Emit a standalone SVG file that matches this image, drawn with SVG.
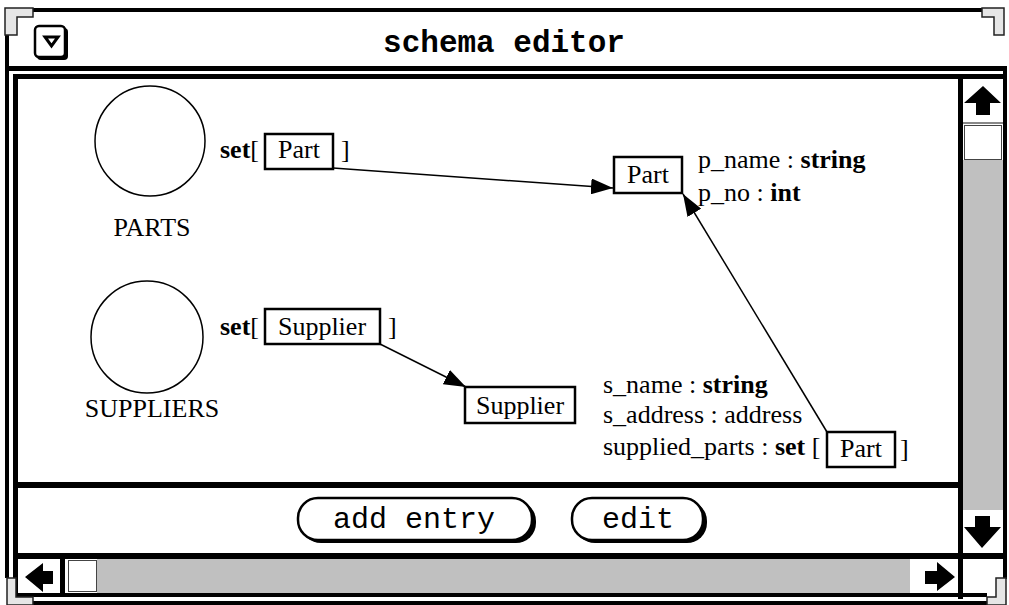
<svg xmlns="http://www.w3.org/2000/svg" width="1009" height="605" viewBox="0 0 1009 605">
<style>
.t{font-family:"Liberation Serif","Times New Roman",serif;font-size:26px;fill:#000}
.b{font-weight:bold}
.mono{font-family:"Liberation Mono","Courier New",monospace;fill:#000}
.box{fill:#fff;stroke:#000;stroke-width:2.5}
.circ{fill:#fff;stroke:#000;stroke-width:1.5}
.edge{stroke:#000;stroke-width:1.5;fill:none;marker-end:url(#ah)}
.blk{fill:#000}
.gray{fill:#c0c0c0}
.corner{fill:#e6e6e6;stroke:#222;stroke-width:1.5}
</style>
<defs>
<marker id="ah" markerUnits="userSpaceOnUse" markerWidth="24" markerHeight="16" refX="22" refY="8" orient="auto">
<path d="M0,0 L22,8 L0,16 z" fill="#000"/>
</marker>
</defs>
<rect width="1009" height="605" fill="#fff"/>
<g id="window-chrome">
<!-- outer frame -->
<rect class="blk" x="5" y="8" width="982" height="4"/>
<rect class="blk" x="5" y="8" width="4" height="570"/>
<rect class="blk" x="5" y="66" width="1002" height="5"/>
<rect class="blk" x="13" y="74" width="994" height="5"/>
<rect class="blk" x="13" y="74" width="5" height="523"/>
<rect class="blk" x="1003" y="66" width="4" height="513"/>
<rect class="blk" x="958" y="74" width="5" height="525"/>
<rect class="blk" x="18" y="482" width="940" height="6"/>
<rect class="blk" x="18" y="553" width="985" height="6"/>
<rect class="blk" x="18" y="593" width="969" height="4"/>
<rect class="blk" x="33" y="601" width="954" height="4"/>
<!-- corners -->
<polygon class="corner" points="5,8 33,8 33,17 17,17 17,35 5,35"/>
<polygon class="corner" points="1004,8 982,8 982,17 994,17 994,35 1004,35"/>
<polygon class="corner" points="7,605 33,605 33,597 16,597 16,578 7,578"/>
<polygon class="corner" points="1006,605 987,605 987,597 996,597 996,578 1006,578"/>
<!-- menu button -->
<rect x="37" y="28" width="31" height="32" rx="4" fill="#000"/>
<rect x="35" y="26" width="30" height="31" rx="4" fill="#fff" stroke="#000" stroke-width="2.5"/>
<polygon points="45,37 58,37 51.5,46" fill="#fff" stroke="#000" stroke-width="3" stroke-linejoin="miter"/>
<text class="mono b" x="504" y="52" font-size="31" text-anchor="middle">schema editor</text>
<!-- vertical scrollbar -->
<rect x="963" y="79" width="40" height="44" fill="#fff"/>
<polygon class="blk" points="964,103 983,86 1001,103 990,103 990,115 976,115 976,103"/>
<rect x="963" y="122" width="40" height="2" fill="#888"/>
<rect x="964.5" y="125.5" width="37" height="34" fill="#fff" stroke="#444" stroke-width="1"/>
<rect class="gray" x="963" y="160" width="40" height="350"/>
<rect x="963" y="510" width="40" height="43" fill="#fff"/>
<polygon class="blk" points="975,516 990,516 990,527 1001,527 982,548 964,527 975,527"/>
<!-- horizontal scrollbar -->
<rect x="18" y="559" width="42" height="34" fill="#fff"/>
<polygon class="blk" points="25,577 43,563 43,571 53,571 53,584 43,584 43,592"/>
<rect class="blk" x="60" y="559" width="5" height="36"/>
<rect x="68.5" y="560.5" width="28" height="31" fill="#fff" stroke="#444" stroke-width="1"/>
<rect class="gray" x="97" y="559" width="813" height="34"/>
<rect x="910" y="559" width="48" height="34" fill="#fff"/>
<polygon class="blk" points="925,571 937,571 937,562 955,577 937,591 937,584 925,584"/>
<!-- buttons -->
<rect x="301" y="501" width="235" height="42" rx="20" fill="#000"/>
<rect x="298" y="498" width="234" height="42" rx="20" fill="#fff" stroke="#000" stroke-width="2.5"/>
<text class="mono" x="414" y="528" font-size="30" text-anchor="middle">add entry</text>
<rect x="575" y="501" width="132" height="42" rx="20" fill="#000"/>
<rect x="572" y="498" width="131" height="42" rx="20" fill="#fff" stroke="#000" stroke-width="2.5"/>
<text class="mono" x="638" y="528" font-size="30" text-anchor="middle">edit</text>
</g>
<g id="connectors">
<line class="edge" x1="333" y1="168" x2="613" y2="188"/>
<line class="edge" x1="380" y1="344" x2="466" y2="387"/>
<line class="edge" x1="827" y1="432" x2="683" y2="194"/>
</g>
<g id="parts">
<circle class="circ" cx="150" cy="141" r="55"/>
<text class="t" x="152" y="236" text-anchor="middle">PARTS</text>
<text class="t" x="220" y="158"><tspan class="b">set</tspan>[</text>
<rect class="box" x="265" y="134" width="68" height="35"/>
<text class="t" x="299" y="158" text-anchor="middle">Part</text>
<text class="t" x="341" y="158">]</text>
</g>
<g id="suppliers">
<circle class="circ" cx="147" cy="337" r="56"/>
<text class="t" x="152" y="417" text-anchor="middle">SUPPLIERS</text>
<text class="t" x="220" y="335"><tspan class="b">set</tspan>[</text>
<rect class="box" x="265" y="309" width="115" height="35"/>
<text class="t" x="322" y="335" text-anchor="middle">Supplier</text>
<text class="t" x="388" y="335">]</text>
</g>
<g id="part-type">
<rect class="box" x="614" y="157" width="68" height="36"/>
<text class="t" x="648" y="183" text-anchor="middle">Part</text>
<text class="t" x="698" y="168">p_name : <tspan class="b">string</tspan></text>
<text class="t" x="698" y="201">p_no : <tspan class="b">int</tspan></text>
</g>
<g id="supplier-type">
<rect class="box" x="465" y="387" width="110" height="36"/>
<text class="t" x="520" y="414" text-anchor="middle">Supplier</text>
<text class="t" x="603" y="393">s_name : <tspan class="b">string</tspan></text>
<text class="t" x="603" y="423">s_address : address</text>
<text class="t" x="603" y="455">supplied_parts : <tspan class="b">set</tspan> [</text>
<rect class="box" x="827" y="432" width="68" height="35"/>
<text class="t" x="861" y="457" text-anchor="middle">Part</text>
<text class="t" x="900" y="457">]</text>
</g>
</svg>
